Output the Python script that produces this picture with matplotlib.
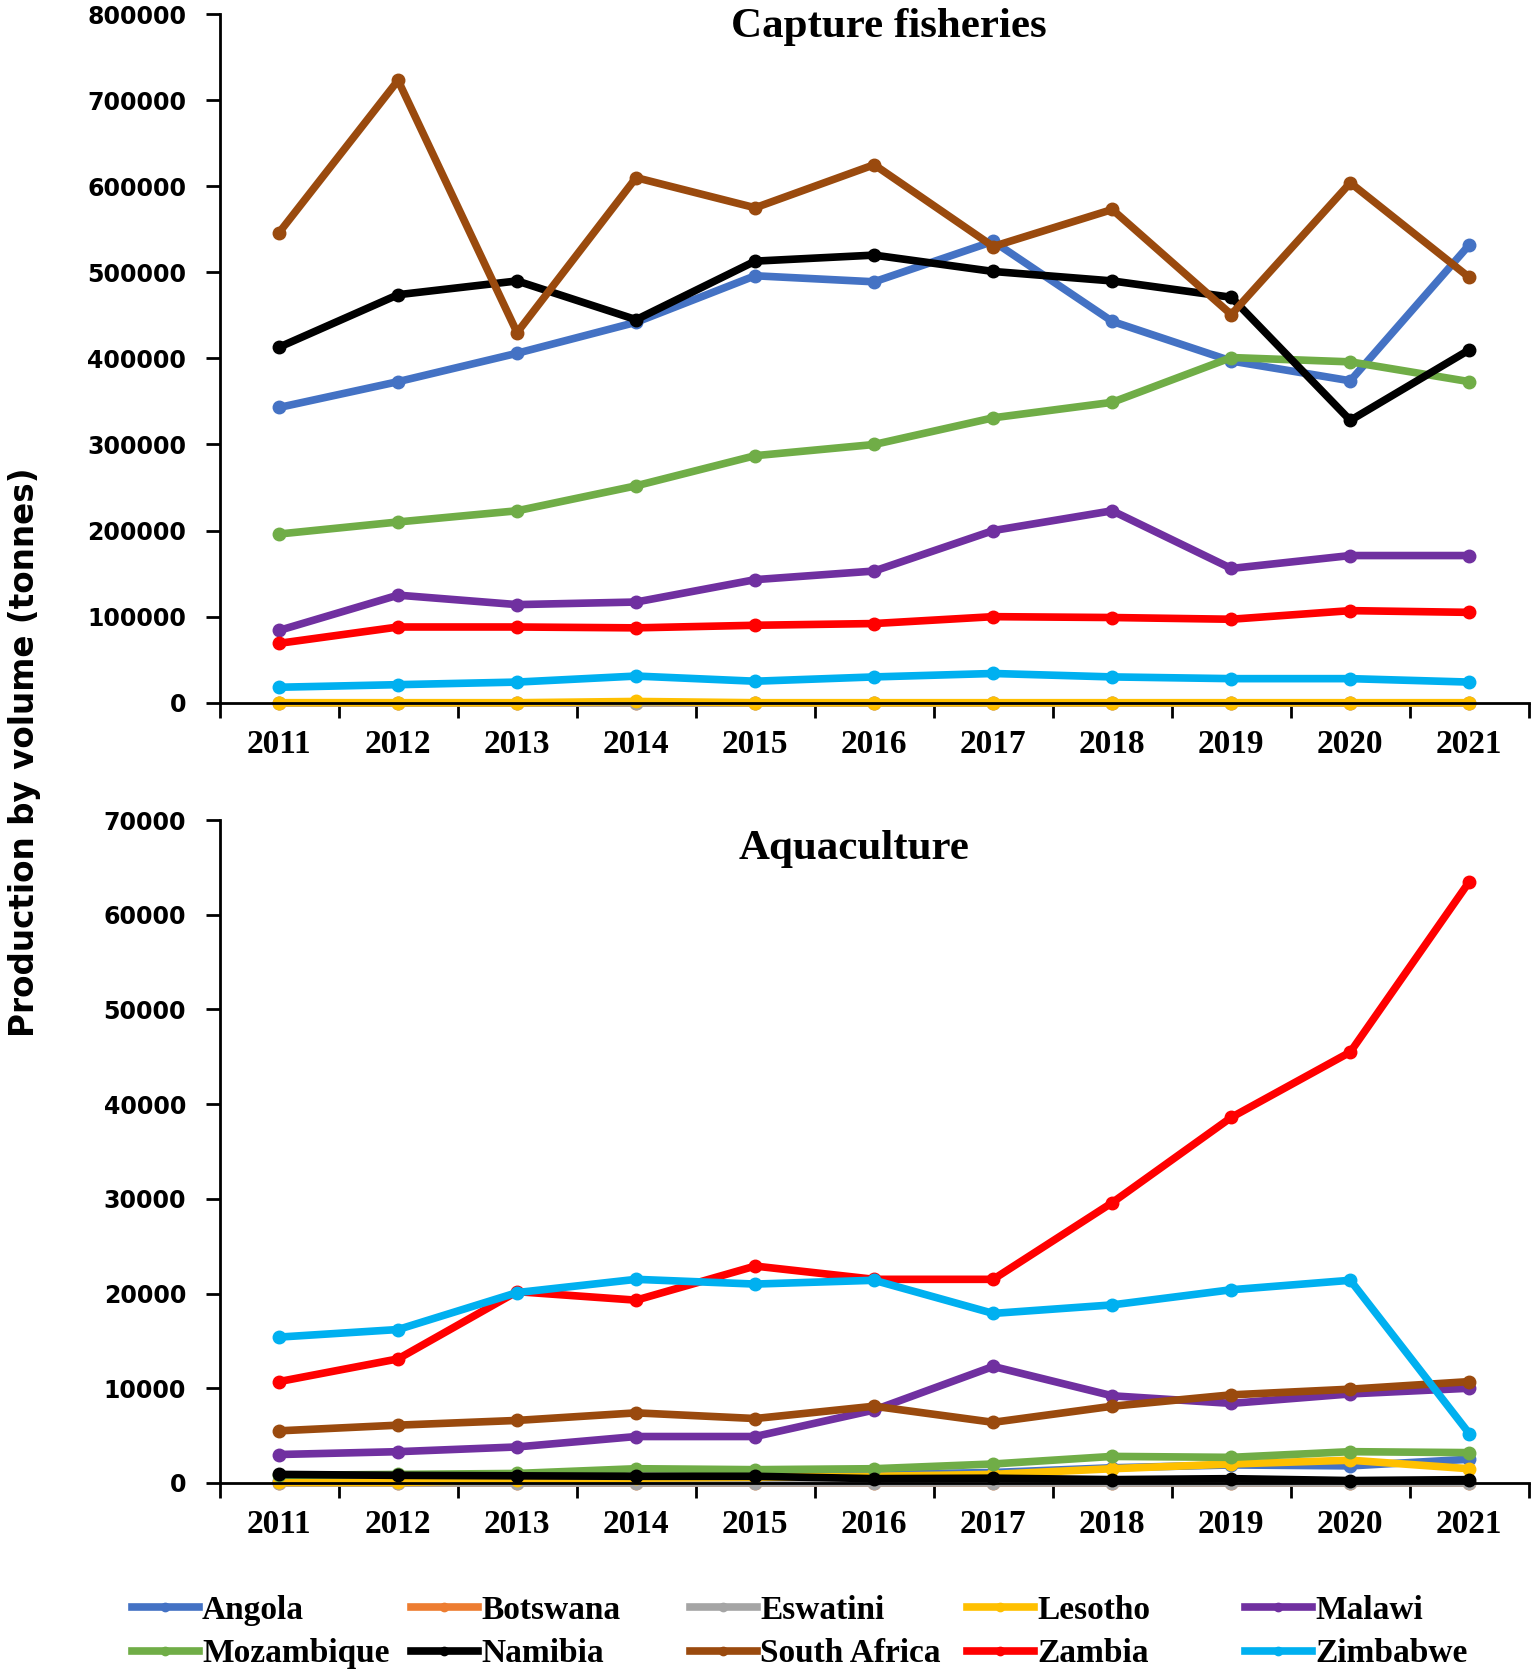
import numpy as np
import matplotlib.pyplot as plt
from matplotlib.lines import Line2D

years = ["2011", "2012", "2013", "2014", "2015", "2016", "2017", "2018", "2019", "2020", "2021"]
countries = ["Angola", "Botswana", "Eswatini", "Lesotho", "Malawi",
             "Mozambique", "Namibia", "South Africa", "Zambia", "Zimbabwe"]
colors = ["#4472C4", "#ED7D31", "#A5A5A5", "#FFC000", "#7030A0",
          "#70AD47", "#000000", "#9A4A0E", "#FF0000", "#00B0F0"]

# capture fisheries (tonnes)
cap_angola = [343000, 373000, 406000, 442000, 496000, 489000, 536000, 443000, 397000, 374000, 532000]
cap_botswana = [100, 100, 100, 100, 100, 100, 100, 100, 100, 100, 100]
cap_eswatini = [70, 70, 70, 70, 70, 70, 70, 70, 70, 70, 70]
cap_lesotho = [50, 50, 50, 1500, 50, 50, 50, 50, 50, 50, 50]
cap_malawi = [84000, 125000, 114000, 117000, 143000, 153000, 200000, 223000, 156000, 171000, 171000]
cap_mozambique = [196000, 210000, 223000, 252000, 287000, 300000, 331000, 349000, 401000, 396000, 373000]
cap_namibia = [413000, 474000, 490000, 445000, 513000, 520000, 501000, 490000, 471000, 328000, 410000]
cap_southafrica = [546000, 723000, 430000, 610000, 575000, 625000, 530000, 573000, 451000, 604000, 494000]
cap_zambia = [69000, 88000, 88000, 87000, 90000, 92000, 100000, 99000, 97000, 107000, 105000]
cap_zimbabwe = [18000, 21000, 24000, 31000, 25000, 30000, 34000, 30000, 28000, 28000, 24000]

# aquaculture (tonnes)
aq_angola = [200, 300, 400, 500, 700, 900, 1100, 1600, 1900, 1800, 2500]
aq_botswana = [20, 20, 20, 20, 20, 20, 20, 20, 20, 20, 20]
aq_eswatini = [30, 30, 30, 30, 30, 30, 30, 30, 30, 30, 30]
aq_lesotho = [50, 50, 300, 500, 600, 700, 900, 1500, 2000, 2400, 1500]
aq_malawi = [3000, 3300, 3800, 4900, 4900, 7700, 12300, 9200, 8400, 9400, 10000]
aq_mozambique = [800, 900, 1000, 1500, 1400, 1500, 2000, 2800, 2700, 3300, 3200]
aq_namibia = [900, 800, 750, 700, 700, 450, 500, 350, 450, 250, 350]
aq_southafrica = [5500, 6100, 6600, 7400, 6800, 8100, 6400, 8100, 9300, 9900, 10700]
aq_zambia = [10700, 13100, 20200, 19300, 22900, 21500, 21500, 29600, 38600, 45500, 63500]
aq_zimbabwe = [15400, 16200, 20100, 21500, 21000, 21400, 17900, 18800, 20400, 21400, 5200]

capture = [cap_angola, cap_botswana, cap_eswatini, cap_lesotho, cap_malawi,
           cap_mozambique, cap_namibia, cap_southafrica, cap_zambia, cap_zimbabwe]
aqua = [aq_angola, aq_botswana, aq_eswatini, aq_lesotho, aq_malawi,
        aq_mozambique, aq_namibia, aq_southafrica, aq_zambia, aq_zimbabwe]

LW = 5.5
MS = 9
serif = ["Liberation Serif", "DejaVu Serif"]

fig = plt.figure(figsize=(15.35, 16.76), dpi=100)
ax1 = fig.add_axes([0.143, 0.5807, 0.853, 0.4109])
ax2 = fig.add_axes([0.143, 0.1152, 0.853, 0.3955])

x = np.arange(len(years))


def style_axis(ax, ymax, step, title, title_x, title_y):
    ax.set_xlim(-0.5, len(years) - 0.5)
    ax.set_ylim(0, ymax)
    ax.set_yticks(np.arange(0, ymax + 1, step))
    ax.set_yticklabels([str(int(v)) for v in np.arange(0, ymax + 1, step)],
                       fontsize=17, fontweight="bold", family="DejaVu Sans")
    ax.set_xticks(x)
    ax.set_xticklabels(years, fontsize=24, fontweight="bold", family=serif)
    ax.set_xticks(np.arange(-0.5, len(years)), minor=True)
    ax.tick_params(axis="x", which="major", length=0, pad=19)
    ax.tick_params(axis="x", which="minor", length=11, width=2, direction="out")
    ax.tick_params(axis="y", length=10, width=2, direction="out", pad=14)
    for s in ["top", "right"]:
        ax.spines[s].set_visible(False)
    ax.spines["left"].set_linewidth(2)
    ax.spines["bottom"].set_linewidth(2)
    ax.text(title_x, title_y, title, transform=ax.transAxes, ha="center", va="center",
            fontsize=31, fontweight="bold", family=serif)


for vals, c in zip(capture, colors):
    ax1.plot(x, vals, color=c, lw=LW, marker="o", ms=MS, clip_on=False)
for vals, c in zip(aqua, colors):
    ax2.plot(x, vals, color=c, lw=LW, marker="o", ms=MS, clip_on=False)

style_axis(ax1, 800000, 100000, "Capture fisheries", 0.511, 0.981)
style_axis(ax2, 70000, 10000, "Aquaculture", 0.485, 0.956)

fig.text(0.016, 0.551, "Production by volume (tonnes)", rotation=90, ha="center", va="center",
         fontsize=23.5, fontweight="bold", family="DejaVu Sans")

# legend: 5 columns, 2 rows, fixed column positions
handles = [Line2D([], [], color=c, lw=LW, marker="o", ms=6) for c in colors]
col_x = [132, 411, 690, 967, 1245]
for i in range(5):
    fig.legend([handles[i], handles[i + 5]], [countries[i], countries[i + 5]],
               loc="center left", bbox_to_anchor=(col_x[i] / 1535, 1 - 1632 / 1676),
               frameon=False, borderpad=0, borderaxespad=0, handlelength=2.0,
               handletextpad=0.1, labelspacing=0.38,
               prop={"family": serif, "weight": "bold", "size": 24})

fig.savefig("out.png", dpi=100)
